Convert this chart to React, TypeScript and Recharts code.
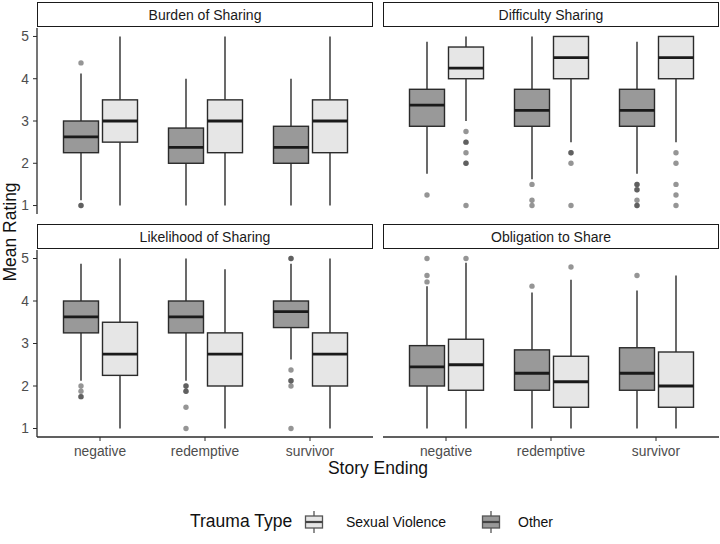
import React from 'react';
import { ComposedChart, Bar, XAxis, YAxis } from 'recharts';

const endings = ['negative', 'redemptive', 'survivor'];
const yTicks = [1, 2, 3, 4, 5];

// [lower whisker, q1, median, q3, upper whisker] per ending
const burdenOther = [[1.125, 2.25, 2.625, 3, 4.125], [1, 2, 2.375, 2.833, 4], [1, 2, 2.375, 2.875, 4]];
const burdenOtherOut = [[1, 1, 4.375], [], []];
const burdenSV = [[1, 2.5, 3, 3.5, 5], [1, 2.25, 3, 3.5, 5], [1, 2.25, 3, 3.5, 5]];
const burdenSVOut = [[], [], []];

const difficultyOther = [[1.75, 2.875, 3.375, 3.75, 4.875], [1.625, 2.875, 3.25, 3.75, 5], [1.75, 2.875, 3.25, 3.75, 4.875]];
const difficultyOtherOut = [[1.25], [1.5, 1.125, 1], [1.5, 1.5, 1.375, 1.375, 1.125, 1, 1]];
const difficultySV = [[3, 4, 4.25, 4.75, 5], [2.5, 4, 4.5, 5, 5], [2.5, 4, 4.5, 5, 5]];
const difficultySVOut = [[2.75, 2.5, 2.5, 2.25, 2, 2, 1], [2.25, 2.25, 2, 1], [2.25, 2, 1.5, 1.25, 1]];

const likelihoodOther = [[2.125, 3.25, 3.625, 4, 4.875], [2.125, 3.25, 3.625, 4, 5], [2.625, 3.375, 3.75, 4, 4.875]];
const likelihoodOtherOut = [[2, 1.875, 1.75, 1.75], [2, 2, 1.875, 1.875, 1.5, 1], [5, 5, 2.375, 2.125, 2.125, 2, 1]];
const likelihoodSV = [[1, 2.25, 2.75, 3.5, 5], [1, 2, 2.75, 3.25, 4.75], [1, 2, 2.75, 3.25, 5]];
const likelihoodSVOut = [[], [], []];

const obligationOther = [[1, 2, 2.45, 2.95, 4.35], [1, 1.9, 2.3, 2.85, 4.2], [1, 1.9, 2.3, 2.9, 4.25]];
const obligationOtherOut = [[5, 4.6, 4.45], [4.35], [4.6]];
const obligationSV = [[1, 1.9, 2.5, 3.1, 4.9], [1, 1.5, 2.1, 2.7, 4.5], [1, 1.5, 2, 2.8, 4.6]];
const obligationSVOut = [[5], [4.8], []];

const FONT = '"Liberation Sans", Arial, sans-serif';
const DARK = '#999999';
const LIGHT = '#e6e6e6';
const LINE = '#2b2b2b';

const buildRows = (other: number[][], otherOut: number[][], sv: number[][], svOut: number[][]) =>
  endings.map((ending, i) => ({
    ending,
    other: [other[i][0], other[i][4]],
    otherStats: other[i],
    otherOut: otherOut[i],
    sv: [sv[i][0], sv[i][4]],
    svStats: sv[i],
    svOut: svOut[i],
  }));

const BoxShape = (props: any) => {
  const { x, y, width, height, payload, group, fill } = props;
  const stats: number[] = payload[group + 'Stats'];
  const outs: number[] = payload[group + 'Out'];
  const [lo, q1, med, q3, hi] = stats;
  const top = Math.min(y, y + height);
  const h = Math.abs(height);
  const k = h / (hi - lo);
  const py = (v: number) => top + (hi - v) * k;
  const cx = x + width / 2;
  return (
    <g>
      <line x1={cx} x2={cx} y1={py(hi)} y2={py(q3)} stroke={LINE} strokeWidth={1.4} />
      <line x1={cx} x2={cx} y1={py(q1)} y2={py(lo)} stroke={LINE} strokeWidth={1.4} />
      <rect x={x} y={py(q3)} width={width} height={py(q1) - py(q3)} fill={fill} stroke={LINE} strokeWidth={1.4} />
      <line x1={x} x2={x + width} y1={py(med)} y2={py(med)} stroke="#1a1a1a" strokeWidth={2.8} />
      {outs.map((v, j) => (
        <circle key={j} cx={cx} cy={py(v)} r={2.7} fill={LINE} fillOpacity={0.5} />
      ))}
    </g>
  );
};

const tickStyle = { fontSize: 13.8, fill: '#4d4d4d', fontFamily: FONT };

const Panel = ({ rows, left, top, showY, showX, plotHeight }: any) => {
  const yw = showY ? 37 : 0;
  const xh = showX ? 30 : 0;
  const width = 336 + yw;
  return (
    <div style={{ position: 'absolute', left: left - yw, top }}>
      <ComposedChart width={width} height={plotHeight + xh} data={rows} margin={{ top: 0, right: 0, bottom: 0, left: 0 }} barSize={35} barGap={4}>
        <XAxis
          dataKey="ending"
          hide={!showX}
          padding={{ left: 10.5, right: 10.5 }}
          tick={tickStyle}
          tickLine={{ stroke: LINE }}
          axisLine={{ stroke: LINE, strokeWidth: 1.3 }}
          tickSize={4}
          tickMargin={5}
          height={xh}
          interval={0}
        />
        <YAxis
          type="number"
          domain={[0.8, 5.2]}
          ticks={yTicks}
          hide={!showY}
          width={yw}
          tick={tickStyle}
          tickLine={{ stroke: LINE }}
          axisLine={{ stroke: LINE, strokeWidth: 1.3 }}
          tickSize={4}
          tickMargin={4}
          allowDataOverflow
        />
        <Bar dataKey="other" fill={DARK} isAnimationActive={false} shape={(p: any) => <BoxShape {...p} group="other" fill={DARK} />} />
        <Bar dataKey="sv" fill={LIGHT} isAnimationActive={false} shape={(p: any) => <BoxShape {...p} group="sv" fill={LIGHT} />} />
      </ComposedChart>
    </div>
  );
};

const Strip = ({ label, left, top }: any) => (
  <div
    style={{
      position: 'absolute', left, top, width: 336, height: 25, boxSizing: 'border-box',
      border: '1.4px solid #1a1a1a', background: '#fff', display: 'flex', alignItems: 'center',
      justifyContent: 'center', fontFamily: FONT, fontSize: 14, color: '#1a1a1a',
    }}
  >
    {label}
  </div>
);

const LegendKey = ({ fill, left }: { fill: string; left: number }) => (
  <svg width={22} height={22} style={{ position: 'absolute', left, top: 511 }}>
    <line x1={11} x2={11} y1={0} y2={22} stroke="#555" strokeWidth={1.3} />
    <rect x={2.5} y={5} width={17} height={12} fill={fill} stroke="#555" strokeWidth={1.3} />
    <line x1={2.5} x2={19.5} y1={11} y2={11} stroke="#444" strokeWidth={2.2} />
  </svg>
);

const title = { position: 'absolute' as const, fontSize: 17.5, color: '#111', whiteSpace: 'nowrap' as const };
const legendText = { position: 'absolute' as const, top: 514, fontSize: 14, color: '#111', whiteSpace: 'nowrap' as const };

export default function App() {
  const L = 37;
  const R = 383;
  return (
    <div style={{ position: 'absolute', left: 0, top: 0, width: 720, height: 544, background: '#fff', fontFamily: FONT }}>
      <Strip label="Burden of Sharing" left={L} top={2} />
      <Strip label="Difficulty Sharing" left={R} top={2} />
      <Strip label="Likelihood of Sharing" left={L} top={224} />
      <Strip label="Obligation to Share" left={R} top={224} />

      <Panel rows={buildRows(burdenOther, burdenOtherOut, burdenSV, burdenSVOut)} left={L} top={28} showY plotHeight={186} />
      <Panel rows={buildRows(difficultyOther, difficultyOtherOut, difficultySV, difficultySVOut)} left={R} top={28} plotHeight={186} />
      <Panel rows={buildRows(likelihoodOther, likelihoodOtherOut, likelihoodSV, likelihoodSVOut)} left={L} top={250} showY showX plotHeight={187} />
      <Panel rows={buildRows(obligationOther, obligationOtherOut, obligationSV, obligationSVOut)} left={R} top={250} showX plotHeight={187} />

      <div style={{ ...title, left: 10, top: 232, transform: 'translate(-50%, -50%) rotate(-90deg)' }}>Mean Rating</div>
      <div style={{ ...title, left: 378, top: 458, transform: 'translateX(-50%)' }}>Story Ending</div>

      <div style={{ ...title, left: 190, top: 511 }}>Trauma Type</div>
      <LegendKey fill={LIGHT} left={303} />
      <div style={{ ...legendText, left: 346 }}>Sexual Violence</div>
      <LegendKey fill={DARK} left={480} />
      <div style={{ ...legendText, left: 518 }}>Other</div>
    </div>
  );
}
